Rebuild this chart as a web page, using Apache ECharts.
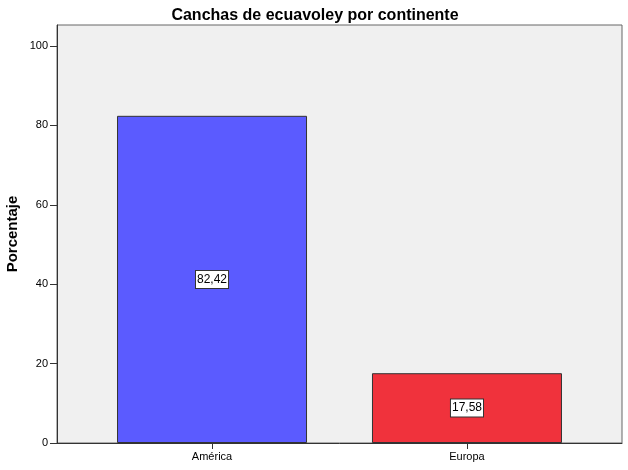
<!DOCTYPE html>
<html>
<head>
<meta charset="utf-8">
<script src="https://cdn.jsdelivr.net/npm/echarts@6/dist/echarts.min.js"></script>
<style>
html,body{margin:0;padding:0;background:#fff;}
#chart{width:628px;height:470px;}
</style>
</head>
<body>
<div id="chart"></div>
<script>
var categories = ['América', 'Europa'];
var values = [82.42, 17.58];
var barColors = ['#5B5BFF', '#F0323C'];
var yTicks = [0, 20, 40, 60, 80, 100];

var chart = echarts.init(document.getElementById('chart'), null, {renderer: 'canvas'});

// bars sit at x = 0,1 on a value axis so the outer gaps match the picture
var barData = values.map(function (v, i) {
  return {value: [i, v], itemStyle: {color: barColors[i]}};
});

var option = {
  animation: false,
  backgroundColor: '#fff',
  title: {
    text: 'Canchas de ecuavoley por continente',
    left: 310, top: 3, textAlign: 'center',
    textStyle: {fontFamily: 'Arial, Liberation Sans', fontSize: 16, fontWeight: 'bold', color: '#000'}
  },
  grid: {
    left: 57, top: 25, width: 565, height: 418,
    outerBoundsMode: 'none', containLabel: false,
    show: true, backgroundColor: '#F0F0F0', borderColor: '#666', borderWidth: 1
  },
  xAxis: {
    type: 'value', min: -0.608, max: 1.608,
    splitLine: {show: false},
    axisLine: {show: true, onZero: false, lineStyle: {color: '#333'}},
    axisTick: {show: true, customValues: [0, 1], length: 6, lineStyle: {color: '#333'}},
    axisLabel: {
      customValues: [0, 1], margin: 8,
      fontFamily: 'Arial, Liberation Sans', fontSize: 11, color: '#000',
      formatter: function (v) { return categories[Math.round(v)]; }
    }
  },
  yAxis: {
    type: 'value', min: 0, max: 105.3,
    name: 'Porcentaje', nameLocation: 'middle', nameGap: 37, nameRotate: 90,
    nameMoveOverlap: false,
    nameTextStyle: {fontFamily: 'Arial, Liberation Sans', fontSize: 15, fontWeight: 'bold', color: '#000'},
    splitLine: {show: false},
    axisLine: {show: true, onZero: false, lineStyle: {color: '#333'}},
    axisTick: {show: true, customValues: yTicks, length: 7, lineStyle: {color: '#333'}},
    axisLabel: {
      customValues: yTicks, margin: 9,
      fontFamily: 'Arial, Liberation Sans', fontSize: 11, color: '#000'
    }
  },
  series: [{
    type: 'bar',
    barWidth: 190,
    data: barData,
    itemStyle: {borderColor: '#333', borderWidth: 1},
    label: {
      show: true, position: 'inside',
      formatter: function (p) { return p.value[1].toFixed(2).replace('.', ','); },
      fontFamily: 'Arial, Liberation Sans', fontSize: 12, color: '#000',
      backgroundColor: '#fff', borderColor: '#333', borderWidth: 1,
      padding: [3, 1, 2, 1]
    }
  }]
};
chart.setOption(option);
</script>
</body>
</html>
